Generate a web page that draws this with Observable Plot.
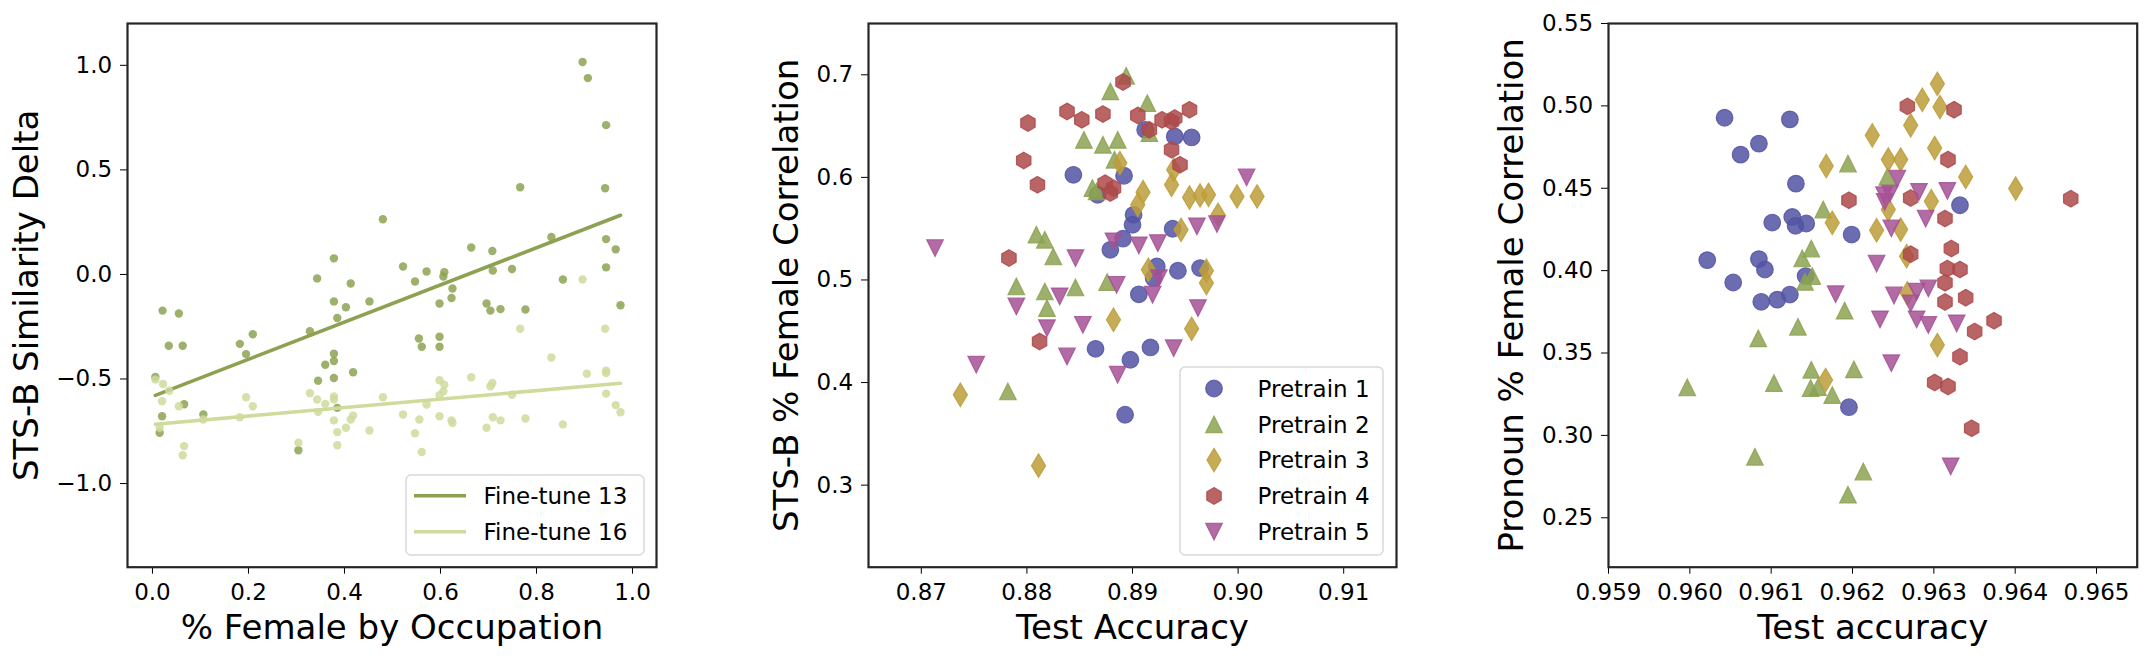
<!DOCTYPE html>
<html><head><meta charset="utf-8">
<script src="https://cdn.jsdelivr.net/npm/d3@7"></script>
<script src="https://cdn.jsdelivr.net/npm/@observablehq/plot@0.6"></script>
<style>
html,body{margin:0;padding:0;background:#fff;}
#wrap{position:relative;width:2154px;height:660px;overflow:hidden;font-family:"DejaVu Sans";}
.panel{position:absolute;top:0;}
#legend{position:absolute;left:0;top:0;}
</style></head><body><div id="wrap"></div>
<script>
// ---------- Panel 1: STS-B similarity delta vs % female by occupation ----------
const ft13X = [0.896,0.907,0.945,0.766,0.943,0.480,0.831,0.945,0.664,0.708,0.965,0.378,0.522,0.571,0.608,0.606,0.709,0.749,0.945,0.343,0.547,0.855,0.413,0.625,0.623,0.598,0.378,0.452,0.403,0.696,0.704,0.725,0.777,0.975,0.385,0.021,0.055,0.328,0.034,0.063,0.182,0.209,0.195,0.555,0.598,0.561,0.598,0.378,0.378,0.360,0.418,0.378,0.345,0.006,0.066,0.020,0.015,0.304,0.385,0.106];
const ft13Y = [1.016,0.939,0.714,0.417,0.412,0.264,0.179,0.169,0.129,0.112,0.120,0.077,0.038,0.014,0.011,-0.010,0.019,0.026,0.034,-0.019,-0.034,-0.024,-0.043,-0.067,-0.113,-0.139,-0.129,-0.129,-0.157,-0.139,-0.173,-0.166,-0.168,-0.147,-0.208,-0.173,-0.187,-0.272,-0.341,-0.341,-0.332,-0.286,-0.381,-0.306,-0.298,-0.346,-0.346,-0.379,-0.414,-0.432,-0.468,-0.495,-0.508,-0.490,-0.621,-0.678,-0.757,-0.841,-0.638,-0.670];
const ft16X = [0.006,0.022,0.035,0.020,0.055,0.015,0.066,0.063,0.106,0.182,0.195,0.209,0.304,0.328,0.343,0.345,0.360,0.378,0.378,0.378,0.385,0.385,0.403,0.413,0.418,0.452,0.480,0.522,0.547,0.556,0.561,0.571,0.598,0.608,0.606,0.598,0.598,0.623,0.625,0.664,0.708,0.704,0.709,0.725,0.696,0.749,0.777,0.831,0.855,0.905,0.945,0.945,0.945,0.965,0.975,0.766,0.943,0.896];
const ft16Y = [-0.503,-0.524,-0.556,-0.606,-0.630,-0.733,-0.821,-0.865,-0.694,-0.683,-0.587,-0.630,-0.805,-0.568,-0.598,-0.657,-0.619,-0.584,-0.598,-0.698,-0.754,-0.817,-0.733,-0.694,-0.675,-0.746,-0.587,-0.670,-0.759,-0.694,-0.849,-0.622,-0.506,-0.527,-0.559,-0.578,-0.678,-0.698,-0.710,-0.492,-0.519,-0.535,-0.683,-0.698,-0.733,-0.575,-0.689,-0.397,-0.717,-0.475,-0.460,-0.471,-0.570,-0.625,-0.659,-0.260,-0.260,-0.024];
const p1XTicks = [0, 0.2, 0.4, 0.6, 0.8, 1.0];
const p1YTicks = [-1.0, -0.5, 0.0, 0.5, 1.0];
const p1Series = ["Fine-tune 13", "Fine-tune 16"];

// ---------- Panel 2: STS-B % female correlation vs test accuracy ----------
const stsAccP1 = [0.8912,0.8940,0.8956,0.8844,0.8892,0.8867,0.8901,0.8900,0.8891,0.8938,0.8879,0.8923,0.8920,0.8943,0.8964,0.8906,0.8865,0.8898,0.8917,0.8893];
const stsCorP1 = [0.6464,0.6399,0.6389,0.6025,0.6016,0.5830,0.5635,0.5538,0.5402,0.5499,0.5294,0.5132,0.5018,0.5090,0.5116,0.4860,0.4329,0.4222,0.4342,0.3686];
const stsAccP2 = [0.8894,0.8879,0.8914,0.8854,0.8872,0.8886,0.8916,0.8883,0.8862,0.8866,0.8809,0.8817,0.8825,0.8790,0.8817,0.8846,0.8876,0.8819,0.8782];
const stsCorP2 = [0.6990,0.6838,0.6724,0.6366,0.6318,0.6366,0.6431,0.6172,0.5895,0.5863,0.5441,0.5392,0.5229,0.4937,0.4888,0.4927,0.4979,0.4725,0.3913];
const stsAccP3 = [0.8888,0.8939,0.8937,0.8910,0.8905,0.8954,0.8964,0.8972,0.8999,0.9018,0.8981,0.8946,0.8915,0.8970,0.8970,0.8882,0.8956,0.8737,0.8811];
const stsCorP3 = [0.6139,0.6074,0.5928,0.5856,0.5733,0.5804,0.5824,0.5830,0.5814,0.5814,0.5635,0.5489,0.5099,0.5090,0.4970,0.4612,0.4524,0.3881,0.3190];
const stsAccP4 = [0.8891,0.8838,0.8852,0.8872,0.8801,0.8905,0.8916,0.8928,0.8937,0.8940,0.8954,0.8937,0.8945,0.8797,0.8810,0.8874,0.8882,0.8879,0.8783,0.8812];
const stsCorP4 = [0.6929,0.6643,0.6561,0.6617,0.6529,0.6604,0.6464,0.6561,0.6545,0.6578,0.6659,0.6269,0.6123,0.6165,0.5928,0.5944,0.5895,0.5847,0.5213,0.4400];
const stsAccP5 = [0.8713,0.8846,0.8882,0.8906,0.8924,0.8961,0.8980,0.8885,0.8925,0.8919,0.8831,0.8790,0.9008,0.8962,0.8819,0.8853,0.8838,0.8939,0.8886,0.8752];
const stsCorP5 = [0.5311,0.5213,0.5376,0.5337,0.5359,0.5522,0.5545,0.4953,0.5018,0.4856,0.4840,0.4742,0.5999,0.4725,0.4530,0.4563,0.4254,0.4335,0.4076,0.4174];
const p2XTicks = [0.87, 0.88, 0.89, 0.90, 0.91];
const p2YTicks = [0.3, 0.4, 0.5, 0.6, 0.7];

// ---------- Panel 3: Pronoun % female correlation vs test accuracy ----------
const proAccP1 = [0.960427,0.961230,0.960849,0.960624,0.961304,0.961259,0.961013,0.961300,0.961431,0.960214,0.960849,0.960923,0.960533,0.961423,0.961230,0.961075,0.960878,0.961956,0.963321,0.961989];
const proCorP1 = [0.4928,0.4918,0.4771,0.4704,0.4528,0.4326,0.4292,0.4272,0.4286,0.4064,0.4070,0.4007,0.3928,0.3967,0.3855,0.3824,0.3811,0.3171,0.4397,0.4219];
const proAccP2 = [0.961640,0.961493,0.961382,0.961505,0.961415,0.961944,0.962428,0.960841,0.961329,0.959968,0.961034,0.961493,0.961485,0.961575,0.961751,0.960800,0.961903,0.962133,0.961944,0.962017];
const proCorP2 = [0.4371,0.4134,0.4074,0.3967,0.3932,0.4650,0.4569,0.3589,0.3659,0.3292,0.3317,0.3398,0.3287,0.3293,0.3245,0.2870,0.3757,0.2781,0.2640,0.3401];
const proAccP3 = [0.961677,0.961751,0.963043,0.962858,0.963075,0.962715,0.962243,0.963010,0.962440,0.962592,0.963391,0.964006,0.962969,0.962440,0.962296,0.962592,0.962665,0.962674,0.963043,0.961669];
const proCorP3 = [0.4635,0.4290,0.5134,0.5037,0.4993,0.4882,0.4821,0.4744,0.4674,0.4674,0.4569,0.4498,0.4421,0.4371,0.4245,0.4249,0.4088,0.3862,0.3548,0.3336];
const proAccP4 = [0.962674,0.963248,0.963174,0.961956,0.962715,0.964683,0.963137,0.963215,0.962715,0.963166,0.963321,0.963137,0.963391,0.963137,0.963740,0.963502,0.963321,0.963010,0.963174,0.963465];
const proCorP4 = [0.4997,0.4977,0.4674,0.4427,0.4441,0.4437,0.4316,0.4134,0.4100,0.4013,0.4007,0.3926,0.3836,0.3810,0.3696,0.3630,0.3477,0.3321,0.3297,0.3043];
const proAccP5 = [0.962551,0.962817,0.963166,0.962387,0.962461,0.962395,0.962899,0.962477,0.962296,0.961792,0.962510,0.962788,0.962932,0.962715,0.962788,0.962932,0.962338,0.963280,0.962477,0.963207];
const proCorP5 = [0.4559,0.4478,0.4484,0.4458,0.4468,0.4417,0.4316,0.4256,0.4043,0.3857,0.3849,0.3872,0.3892,0.3801,0.3704,0.3670,0.3704,0.3680,0.3438,0.2812];
const p3XTicks = [0.959, 0.960, 0.961, 0.962, 0.963, 0.964, 0.965];
const p3YTicks = [0.25, 0.30, 0.35, 0.40, 0.45, 0.50, 0.55];

const pretrainNames = ["Pretrain 1", "Pretrain 2", "Pretrain 3", "Pretrain 4", "Pretrain 5"];

// ---------- styling ----------
const pretrainColors = ["#5254a3", "#8ca252", "#bd9e39", "#ad494a", "#a55194"];
const ftColors = ["#8ca252", "#cedb9c"];
const FONT = "DejaVu Sans";
const TICK_FS = 23, LABEL_FS = 34, LEG_FS = 23;
const MR = 8.3; // marker radius

const rad = s => Math.sqrt(s / Math.PI);
const symCircle = {draw(c, s) { const r = rad(s); c.moveTo(r, 0); c.arc(0, 0, r, 0, 2 * Math.PI); c.closePath(); }};
const symTriUp = {draw(c, s) { const r = rad(s); c.moveTo(0, -r); c.lineTo(r, r); c.lineTo(-r, r); c.closePath(); }};
const symTriDown = {draw(c, s) { const r = rad(s); c.moveTo(0, r); c.lineTo(r, -r); c.lineTo(-r, -r); c.closePath(); }};
const symThinDiamond = {draw(c, s) { const r = rad(s); c.moveTo(0, -1.414 * r); c.lineTo(0.85 * r, 0); c.lineTo(0, 1.414 * r); c.lineTo(-0.85 * r, 0); c.closePath(); }};
const symHexagon = {draw(c, s) { const r = rad(s); for (let k = 0; k < 6; k++) { const a = -Math.PI / 2 + k * Math.PI / 3; const px = r * Math.cos(a), py = r * Math.sin(a); if (k) c.lineTo(px, py); else c.moveTo(px, py); } c.closePath(); }};
const pretrainSymbols = [symCircle, symTriUp, symThinDiamond, symHexagon, symTriDown];

const H = 660, MT = 23, MB = 660 - 566.7;
const wrap = document.getElementById("wrap");

function pts(X, Y) { return X.map((x, i) => ({x, y: Y[i]})); }

function labels(xLabel, yLabel, yDx) {
  return [
    Plot.text([xLabel], {text: d => d, frameAnchor: "bottom", dy: 71.3, lineAnchor: "bottom", textAnchor: "middle", fontSize: LABEL_FS, fill: "#000"}),
    Plot.text([yLabel], {text: d => d, frameAnchor: "left", dx: yDx, rotate: -90, lineAnchor: "bottom", textAnchor: "middle", fontSize: LABEL_FS, fill: "#000"})
  ];
}

function makePanel(cfg) {
  const chart = Plot.plot({
    width: cfg.width, height: H,
    marginLeft: cfg.ml, marginRight: cfg.mr, marginTop: MT, marginBottom: MB,
    style: {fontFamily: FONT, fontSize: TICK_FS + "px", color: "#000", background: "transparent", overflow: "visible"},
    x: {domain: cfg.xDomain, ticks: cfg.xTicks, tickFormat: cfg.xFmt, tickSize: 7, tickPadding: 9.5, label: null},
    y: {domain: cfg.yDomain, ticks: cfg.yTicks, tickFormat: cfg.yFmt, tickSize: 7, tickPadding: 8.3, label: null},
    marks: [
      ...cfg.marks,
      Plot.frame({stroke: "#262626", strokeWidth: 2.2}),
      ...labels(cfg.xLabel, cfg.yLabel, cfg.yDx)
    ]
  });
  const div = document.createElement("div");
  div.className = "panel";
  div.style.left = cfg.left + "px";
  div.style.width = cfg.width + "px";
  div.appendChild(chart);
  wrap.appendChild(div);
}

// Panel 1
makePanel({
  left: 0, width: 740, ml: 127, mr: 84,
  xDomain: [-0.052, 1.05], yDomain: [-1.4, 1.2],
  xTicks: p1XTicks, yTicks: p1YTicks, xFmt: d3.format(".1f"), yFmt: d3.format(".1f"),
  xLabel: "% Female by Occupation", yLabel: "STS-B Similarity Delta", yDx: -90,
  marks: [
    Plot.dot(pts(ft13X, ft13Y), {x: "x", y: "y", r: 4.2, fill: ftColors[0], fillOpacity: 0.85, stroke: null}),
    Plot.linearRegressionY(pts(ft13X, ft13Y), {x: "x", y: "y", stroke: ftColors[0], strokeWidth: 3.6, ci: 0}),
    Plot.dot(pts(ft16X, ft16Y), {x: "x", y: "y", r: 4.2, fill: ftColors[1], fillOpacity: 0.85, stroke: null}),
    Plot.linearRegressionY(pts(ft16X, ft16Y), {x: "x", y: "y", stroke: ftColors[1], strokeWidth: 3.6, ci: 0})
  ]
});

function pretrainDots(accs, cors) {
  return accs.map((A, k) => Plot.dot(pts(A, cors[k]), {
    x: "x", y: "y", r: MR, symbol: pretrainSymbols[k],
    fill: pretrainColors[k], fillOpacity: 0.85,
    stroke: pretrainColors[k], strokeOpacity: 0.85, strokeWidth: 1.2
  }));
}

// Panel 2
makePanel({
  left: 740, width: 720, ml: 128, mr: 64,
  xDomain: [0.865, 0.915], yDomain: [0.22, 0.75],
  xTicks: p2XTicks, yTicks: p2YTicks, xFmt: d3.format(".2f"), yFmt: d3.format(".1f"),
  xLabel: "Test Accuracy", yLabel: "STS-B % Female Correlation", yDx: -71,
  marks: pretrainDots([stsAccP1, stsAccP2, stsAccP3, stsAccP4, stsAccP5], [stsCorP1, stsCorP2, stsCorP3, stsCorP4, stsCorP5])
});

// Panel 3
makePanel({
  left: 1460, width: 694, ml: 148, mr: 17.3,
  xDomain: [0.959, 0.9655], yDomain: [0.22, 0.55],
  xTicks: p3XTicks, yTicks: p3YTicks, xFmt: d3.format(".3f"), yFmt: d3.format(".2f"),
  xLabel: "Test accuracy", yLabel: "Pronoun % Female Correlation", yDx: -85.3,
  marks: pretrainDots([proAccP1, proAccP2, proAccP3, proAccP4, proAccP5], [proCorP1, proCorP2, proCorP3, proCorP4, proCorP5])
});

// ---------- Legends (overlay) ----------
const leg = d3.select(wrap).append("svg").attr("id", "legend")
  .attr("width", 2154).attr("height", 660)
  .attr("font-family", FONT).attr("font-size", LEG_FS);

function legendBox(x0, y0, x1, y1) {
  leg.append("rect").attr("x", x0).attr("y", y0).attr("width", x1 - x0).attr("height", y1 - y0)
    .attr("rx", 5).attr("fill", "#fff").attr("fill-opacity", 0.8)
    .attr("stroke", "#d9d9d9").attr("stroke-width", 1.5);
}

// Panel 1 legend
legendBox(406, 475, 644, 555);
p1Series.forEach((name, i) => {
  const y = 495.7 + i * 36;
  leg.append("line").attr("x1", 414).attr("x2", 466).attr("y1", y).attr("y2", y)
    .attr("stroke", ftColors[i]).attr("stroke-width", 3.6);
  leg.append("text").attr("x", 483.5).attr("y", y).attr("dy", "0.36em").text(name);
});

// Panel 2 legend
legendBox(1180, 367, 1383, 555);
pretrainNames.forEach((name, i) => {
  const y = 388.5 + i * 35.8;
  const p = d3.path();
  pretrainSymbols[i].draw(p, Math.PI * MR * MR);
  leg.append("path").attr("d", p.toString()).attr("transform", `translate(1214,${y})`)
    .attr("fill", pretrainColors[i]).attr("fill-opacity", 0.85)
    .attr("stroke", pretrainColors[i]).attr("stroke-opacity", 0.85).attr("stroke-width", 1.2);
  leg.append("text").attr("x", 1257.5).attr("y", y).attr("dy", "0.36em").text(name);
});
</script></body></html>
